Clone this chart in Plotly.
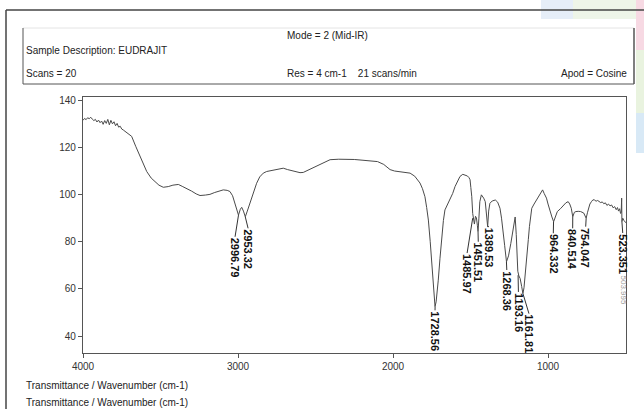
import plotly.graph_objects as go

# ---------------- data ----------------
wavenumber = [4000, 3990, 3980, 3970, 3960, 3950, 3940, 3930, 3920, 3910, 3900, 3890, 3880, 3870,
              3860, 3850, 3840, 3830, 3820, 3810, 3800, 3790, 3780, 3770, 3760, 3750, 3740, 3720,
              3700, 3686, 3660, 3640, 3620, 3600, 3589, 3560, 3535, 3510, 3482, 3450, 3420, 3385,
              3360, 3331, 3300, 3270, 3245, 3210, 3181, 3150, 3120, 3095, 3070, 3052, 3035, 3019,
              3005, 2997, 2985, 2976, 2965, 2953, 2940, 2923, 2900, 2880, 2860, 2837, 2815, 2780,
              2740, 2708, 2680, 2640, 2600, 2579, 2540, 2500, 2450, 2406, 2350, 2300, 2250, 2200,
              2150, 2100, 2060, 2019, 1990, 1950, 1920, 1890, 1860, 1840, 1826, 1810, 1794, 1783,
              1772, 1760, 1751, 1740, 1732, 1729, 1722, 1715, 1708, 1697, 1686, 1675, 1665, 1650,
              1632, 1615, 1600, 1585, 1568, 1550, 1535, 1520, 1510, 1503, 1498, 1492, 1486, 1480,
              1475, 1468, 1462, 1456, 1451.5, 1446, 1440, 1430, 1422, 1415, 1405, 1396, 1389.5,
              1383, 1375, 1360, 1340, 1325, 1310, 1300, 1290, 1280, 1268, 1255, 1240, 1228, 1220,
              1212, 1205, 1200, 1195, 1188, 1180, 1170, 1162, 1155, 1150, 1142, 1135, 1127, 1120,
              1112, 1105, 1090, 1080, 1070, 1060, 1045, 1035, 1025, 1010, 1000, 990, 975, 964, 955,
              940, 920, 900, 885, 870, 860, 850, 840.5, 830, 820, 805, 790, 770, 754, 745, 740, 730,
              720, 710, 700, 690, 680, 670, 660, 650, 640, 630, 620, 610, 600, 590, 580, 570, 560,
              552, 545, 538, 532, 528, 525, 523.4, 518, 510, 503, 497]
transmittance = [131.5, 132.3, 131.8, 132.6, 132.2, 132.8, 132.0, 131.4, 131.9, 130.8, 131.6, 130.5, 131.2, 129.8,
                 131.4, 130.2, 131.9, 129.6, 131.5, 130.0, 130.9, 129.2, 130.2, 128.6, 129.0, 127.8, 127.4, 126.5,
                 125.3, 124.7, 120.5, 117.5, 114.0, 111.3, 109.8, 107.0, 105.5, 104.0, 103.1, 103.4, 104.0, 104.3,
                 103.5, 102.7, 101.5, 100.3, 99.6, 99.8, 100.1, 100.9, 101.6, 102.0, 101.8, 101.3, 99.5, 96.3,
                 93.0, 91.3, 93.8, 94.6, 93.0, 90.6, 93.0, 96.3, 101.0, 104.8, 107.5, 109.1, 109.8, 110.3,
                 111.0, 111.2, 110.6, 109.8, 109.3, 109.4, 110.6, 112.0, 113.5, 114.8, 115.0, 115.1, 114.9, 114.6,
                 114.4, 114.0, 112.8, 110.6, 110.0, 109.6, 109.4, 109.1, 107.8, 106.3, 104.9, 102.5, 99.1, 94.5,
                 89.2, 80.0, 70.8, 60.5, 54.0, 52.5, 54.5, 58.0, 63.7, 73.0, 82.1, 89.0, 93.5, 95.5,
                 97.7, 100.5, 103.4, 105.8, 107.7, 108.6, 108.4, 107.9, 107.2, 106.3, 103.0, 99.1, 92.0, 88.0,
                 87.5, 90.8, 90.2, 87.0, 84.3, 90.0, 97.0, 99.9, 99.2, 98.5, 97.0, 91.0, 86.4,
                 93.0, 96.3, 97.3, 97.7, 96.8, 94.2, 90.0, 85.0, 78.5, 71.5, 74.0, 79.3, 85.0, 87.8,
                 90.5, 83.0, 75.1, 67.5, 65.5, 64.4, 61.0, 58.0, 60.5, 63.7, 69.0, 75.1, 81.0, 86.4,
                 91.0, 94.2, 96.0, 97.0, 98.0, 99.1, 100.5, 102.0, 100.5, 98.5, 96.0, 93.5, 90.5, 88.5, 90.5,
                 92.8, 94.0, 95.6, 96.5, 97.0, 96.0, 94.2, 90.6, 92.5, 92.8, 92.9, 92.8, 92.2, 90.0, 92.5, 94.2, 96.0,
                 97.0, 97.8, 97.7, 97.2, 97.5, 97.0, 96.6, 96.9, 96.1, 96.5, 95.4, 96.0, 95.2, 95.6, 94.4, 94.9, 93.6,
                 94.5, 93.0, 94.0, 92.0, 92.5, 98.5, 88.5, 90.0, 89.0, 88.5, 88.0]

peak_wn = [2996.79, 2953.32, 1728.56, 1485.97, 1451.51, 1389.53, 1268.36, 1193.16, 1161.81,
           964.332, 840.514, 754.047, 523.351]
peak_labels = ["2996.79", "2953.32", "1728.56", "1485.97", "1451.51", "1389.53", "1268.36",
               "1193.16", "1161.81", "964.332", "840.514", "754.047", "523.351"]
peak_T = [91.3, 90.6, 52.5, 90.0, 84.3, 86.4, 71.5, 65.8, 58.0, 88.5, 90.6, 90.0, 88.5]
# label anchor (where each rotated label starts)
label_wn = [3019, 2935, 1729, 1522, 1450, 1381, 1266, 1191, 1123, 966, 841, 757, 518]
label_T = [82.1, 85.7, 50.9, 75.2, 80.0, 86.4, 68.0, 58.7, 49.5, 83.6, 85.7, 86.4, 83.7]

x_ticks = [4000, 3000, 2000, 1000]
y_ticks = [40, 60, 80, 100, 120, 140]

header_mode = "Mode = 2 (Mid-IR)"
header_sample = "Sample Description: EUDRAJIT"
header_scans = "Scans = 20"
header_res = "Res = 4 cm-1    21 scans/min"
header_apod = "Apod = Cosine"
footer_text = "Transmittance / Wavenumber (cm-1)"

# ---------------- layout geometry ----------------
W, H = 644, 409
ML, MR, MT, MB = 83, 18, 97, 56
PW = W - ML - MR
PH = H - MT - MB


def px(xp):
    return (xp - ML) / PW


def py(yp):
    return (H - MB - yp) / PH


FONT = "Liberation Sans, Arial, sans-serif"
NARROW = "Liberation Sans Narrow, Arial Narrow, Liberation Sans, Arial, sans-serif"

fig = go.Figure()
fig.add_trace(go.Scatter(x=wavenumber, y=transmittance, mode="lines",
                         line=dict(color="#4a4a4a", width=1), hoverinfo="skip",
                         showlegend=False))

annotations = []
shapes = []

# peak labels with leader lines
for wn, lab, t, lx, lt in zip(peak_wn, peak_labels, peak_T, label_wn, label_T):
    shapes.append(dict(type="line", xref="x", yref="y", x0=wn, y0=t, x1=lx, y1=lt,
                       line=dict(color="#333333", width=1)))
    annotations.append(dict(x=lx, y=lt, xref="x", yref="y", text=lab, showarrow=False,
                            textangle=90, xanchor="center", yanchor="top", borderpad=0,
                            font=dict(family=FONT, size=11, color="#111111", weight="bold")))

# faint extra label at right end
annotations.append(dict(x=px(623), y=py(274), xref="paper", yref="paper", text="503.995",
                        showarrow=False, textangle=90, xanchor="center", yanchor="top",
                        borderpad=0, font=dict(family=FONT, size=8, color="#9a9a9a")))

# header texts
def htext(x, y, text, anchor="left"):
    annotations.append(dict(x=px(x), y=py(y), xref="paper", yref="paper", text=text,
                            showarrow=False, xanchor=anchor, yanchor="middle",
                            font=dict(family=NARROW, size=10, color="#222222")))


htext(285, 35, header_mode)
htext(24, 50, header_sample)
htext(24, 73, header_scans)
htext(285, 73, header_res)
htext(629, 73, header_apod, anchor="right")
htext(24, 385, footer_text)
htext(24, 402, footer_text)

# frames
def pline(x0, y0, x1, y1, color="#333333", width=1):
    shapes.append(dict(type="line", xref="paper", yref="paper", x0=px(x0), y0=py(y0),
                       x1=px(x1), y1=py(y1), line=dict(color=color, width=width)))


def prect(x0, y0, x1, y1, color):
    shapes.append(dict(type="rect", xref="paper", yref="paper", x0=px(x0), y0=py(y0),
                       x1=px(x1), y1=py(y1), line=dict(width=0), fillcolor=color,
                       layer="below"))


# pastel decorations in top-right corner
prect(541, 0, 573, 19, "#e6eef8")
prect(573, 0, 636, 19, "#eef5e8")
prect(636, 0, 644, 50, "#f7d9e3")
prect(636, 50, 644, 113, "#e9f3df")
prect(636, 113, 644, 153, "#d8e9f6")

pline(6, 10, 644, 10, "#444444", 1.5)
pline(6, 10, 6, 409, "#444444", 1.5)
pline(23, 28, 634, 28, "#e4e4e4", 1)
pline(23, 28, 23, 84, "#555555", 1)
pline(634, 28, 634, 84, "#555555", 1.5)
pline(23, 84, 634, 84, "#555555", 1)

fig.update_layout(
    width=W, height=H,
    margin=dict(l=ML, r=MR, t=MT, b=MB, pad=0),
    paper_bgcolor="white", plot_bgcolor="white",
    showlegend=False,
    annotations=annotations,
    shapes=shapes,
    xaxis=dict(range=[4000, 497], tickvals=x_ticks, ticktext=[str(v) for v in x_ticks],
               showgrid=False, zeroline=False, showline=True, linecolor="#555555",
               linewidth=1.2, mirror=True, ticks="outside", ticklen=4, tickcolor="#555555",
               tickfont=dict(family=FONT, size=10, color="#333333")),
    yaxis=dict(range=[32.8, 141.4], tickvals=y_ticks, ticktext=[str(v) for v in y_ticks],
               showgrid=False, zeroline=False, showline=True, linecolor="#555555",
               linewidth=1.2, mirror=True, ticks="outside", ticklen=4, tickcolor="#555555",
               tickfont=dict(family=FONT, size=10, color="#333333")),
)

fig.write_html("out.html")
